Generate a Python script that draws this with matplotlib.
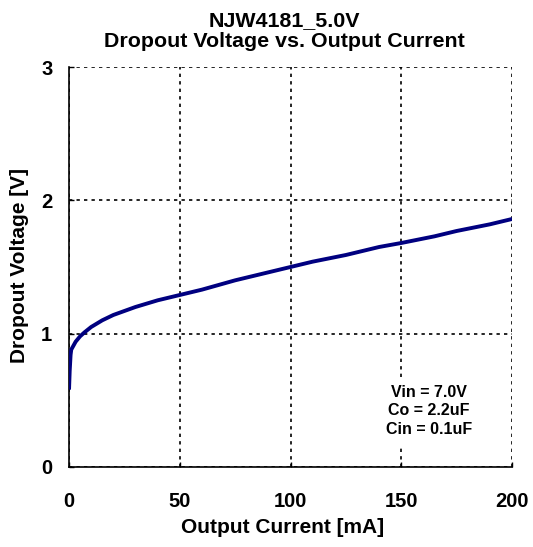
import matplotlib
matplotlib.use("Agg")
import matplotlib.pyplot as plt

plt.rcParams['font.family'] = ['Liberation Sans', 'DejaVu Sans']

current_mA = [0, 0.3, 0.7, 1, 2, 3, 5, 7, 10, 15, 20, 25, 30, 40, 50, 60, 75, 90, 100, 110, 125, 140, 150, 165, 175, 190, 200]
dropout_V = [0.58, 0.72, 0.84, 0.88, 0.91, 0.94, 0.98, 1.01, 1.05, 1.10, 1.14, 1.17, 1.20, 1.25, 1.29, 1.33, 1.40, 1.46, 1.50, 1.54, 1.59, 1.65, 1.68, 1.73, 1.77, 1.82, 1.86]
x_ticks = [0, 50, 100, 150, 200]
y_ticks = [0, 1, 2, 3]

fig = plt.figure(figsize=(5.33, 5.47), dpi=100)
ax = fig.add_axes([0.1295, 0.1463, 0.8311, 0.7312])
ax.plot(current_mA, dropout_V, color='#000080', lw=2.8, solid_capstyle='butt', zorder=3)
ax.set_xlim(0, 200)
ax.set_ylim(0, 3)
ax.set_xticks(x_ticks)
ax.set_yticks(y_ticks)
ax.grid(True, color='black', linestyle=(0, (2, 2.5)), linewidth=1.2)
ax.spines['top'].set_visible(False)
ax.spines['right'].set_visible(False)
ax.spines['left'].set_linewidth(1.2)
ax.spines['bottom'].set_linewidth(1.2)
ax.tick_params(axis='both', direction='in', length=3.5, width=1.0, labelsize=14.5)
ax.tick_params(axis='x', pad=18)
ax.tick_params(axis='y', pad=12)
for lbl in ax.get_xticklabels() + ax.get_yticklabels():
    lbl.set_fontweight('bold')
ax.set_xlabel('Output Current [mA]', fontsize=15, fontweight='bold')
ax.set_ylabel('Dropout Voltage [V]', fontsize=15, fontweight='bold')
ax.xaxis.set_label_coords(0.483, -0.128)
ax.yaxis.set_label_coords(-0.09, 0.504)
fig.text(0.534, 1 - 47 / 547, 'NJW4181_5.0V\nDropout Voltage vs. Output Current',
         ha='center', va='baseline', fontsize=15.4, fontweight='bold', linespacing=1.12, multialignment='center')
ax.text(162.5, 0.42, 'Vin = 7.0V\nCo = 2.2uF\nCin = 0.1uF', ha='center', va='center',
        fontsize=11.5, fontweight='bold', linespacing=1.28, zorder=4,
        bbox=dict(facecolor='white', edgecolor='none', pad=6))
fig.savefig('out.png', dpi=100)
